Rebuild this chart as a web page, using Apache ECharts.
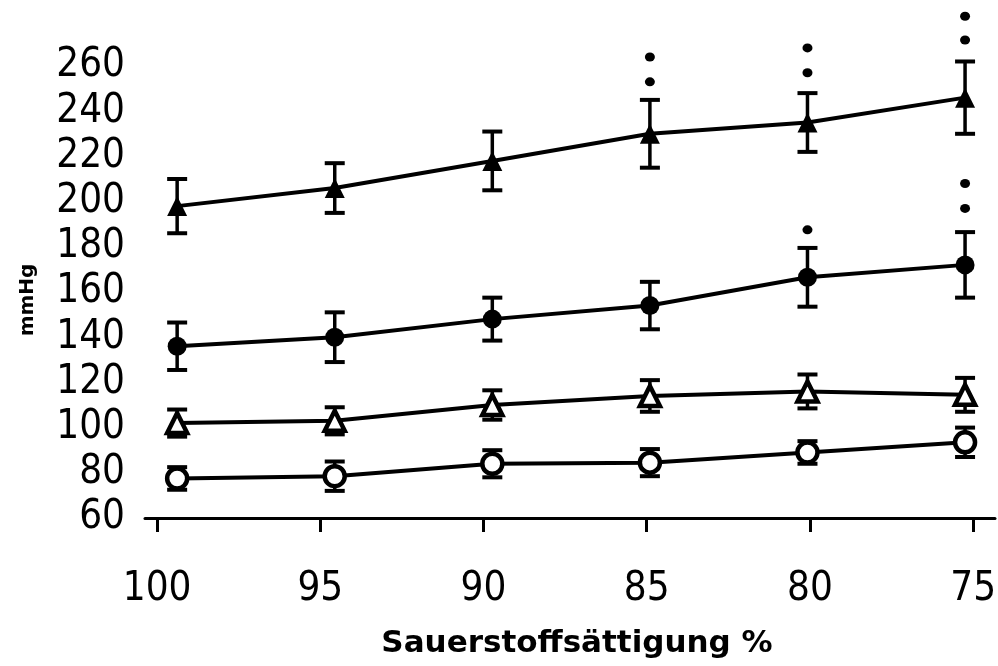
<!DOCTYPE html>
<html>
<head>
<meta charset="utf-8">
<title>Sauerstoffsättigung</title>
<script src="https://cdn.jsdelivr.net/npm/echarts@6.0.0/dist/echarts.min.js"></script>
<style>
    html, body { margin: 0; padding: 0; background: #fff; }
    #chart { width: 998px; height: 666px; }
</style>
</head>
<body>
<div id="chart"></div>
<script>
// Werte
var satLevels = [100, 95, 90, 85, 80, 75];
var yTicks = [60, 80, 100, 120, 140, 160, 180, 200, 220, 240, 260];

// gefülltes Dreieck
var meanA = [198, 206, 218, 230, 235, 246];
var errA = [12, 11, 13, 15, 13, 16];
// gefüllter Kreis
var meanB = [136, 140, 148, 154, 166.5, 172];
var errB = [10.5, 11, 9.5, 10.5, 13, 14.5];
// offenes Dreieck
var meanC = [102, 103, 110, 114, 116, 114.5];
var errC = [6, 6, 6.5, 7, 7.5, 7.5];
// offener Kreis
var meanD = [77.5, 78.5, 84, 84.5, 89, 93.5];
var errD = [5, 6.5, 6, 6, 5, 6.5];

// Signifikanzpunkte [Sättigung, mmHg]
var sigDots = [[85, 253], [85, 264], [80, 257], [80, 268], [75, 271.5], [75, 282],
               [80, 187.5], [75, 197], [75, 208]];

var chart;

$ready(function () {
    chart = echarts.init(document.getElementById("chart"));
    chart.setOption(buildOption());
});

function $ready(fn) {
    if (document.readyState != "loading") fn();
    else document.addEventListener("DOMContentLoaded", fn);
}

function pairs(xs, ys) {
    var out = [];
    for (var i = 0; i < xs.length; i++) {
        out.push([xs[i], ys[i]]);
    }
    return out;
}

function errRows(xs, ys, es) {
    var out = [];
    for (var i = 0; i < xs.length; i++) {
        out.push([xs[i], ys[i] - es[i], ys[i] + es[i]]);
    }
    return out;
}

//Fehlerbalken zeichnen
function renderErr(params, api) {
    var lo = api.coord([api.value(0), api.value(1)]);
    var hi = api.coord([api.value(0), api.value(2)]);
    var w = 10;
    var st = { stroke: "#000", lineWidth: 4 };
    return {
        type: "group",
        children: [
            { type: "line", shape: { x1: lo[0], y1: lo[1], x2: hi[0], y2: hi[1] }, style: { stroke: "#000", lineWidth: 3.5 } },
            { type: "line", shape: { x1: lo[0] - w, y1: lo[1], x2: lo[0] + w, y2: lo[1] }, style: st },
            { type: "line", shape: { x1: hi[0] - w, y1: hi[1], x2: hi[0] + w, y2: hi[1] }, style: st }
        ]
    };
}

function errSeries(data) {
    return {
        type: "custom",
        xAxisIndex: 1,
        renderItem: renderErr,
        data: data,
        clip: false,
        z: 1,
        silent: true
    };
}

function lineSeries(data, symbol, filled, size) {
    return {
        type: "line",
        xAxisIndex: 1,
        data: data,
        symbol: symbol,
        symbolSize: size,
        showAllSymbol: true,
        clip: false,
        z: 3,
        lineStyle: { color: "#000", width: 4 },
        itemStyle: {
            color: filled ? "#000" : "#fff",
            borderColor: "#000",
            borderWidth: filled ? 0 : 4.5,
            opacity: 1
        },
        silent: true
    };
}

function buildOption() {
    var digitFont = "'Liberation Sans Narrow', 'DejaVu Sans Condensed', sans-serif";
    return {
        backgroundColor: "#fff",
        animation: false,
        grid: { left: 145, right: 3, top: 66, bottom: 148, outerBoundsMode: "none", containLabel: false },
        xAxis: [
            {
                type: "value",
                inverse: true,
                min: 74.33,
                max: 100.37,
                name: "Sauerstoffsättigung %",
                nameLocation: "middle",
                nameGap: 110,
                nameTextStyle: {
                    color: "#000",
                    fontFamily: "'DejaVu Sans', sans-serif",
                    fontWeight: "bold",
                    fontSize: 31,
                    padding: [0, 0, 0, 14]
                },
                axisLine: { show: true, lineStyle: { color: "#000", width: 3 } },
                axisTick: {
                    show: true,
                    inside: false,
                    length: 14,
                    customValues: satLevels,
                    lineStyle: { color: "#000", width: 3 }
                },
                axisLabel: {
                    customValues: satLevels,
                    margin: 52,
                    color: "#000",
                    fontFamily: digitFont,
                    fontSize: 40
                },
                splitLine: { show: false }
            },
            {
                // Datenachse, Punkte liegen etwas versetzt zu den Strichen
                type: "value",
                inverse: true,
                min: 74.05,
                max: 101.02,
                show: false
            }
        ],
        yAxis: {
            type: "value",
            min: 60,
            max: 260,
            interval: 20,
            name: "mmHg",
            nameLocation: "middle",
            nameRotate: 90,
            nameGap: 107,
            nameTextStyle: {
                color: "#000",
                fontFamily: "'DejaVu Sans', sans-serif",
                fontWeight: "bold",
                fontSize: 20,
                padding: [0, 16, 0, 0]
            },
            axisLine: { show: false },
            axisTick: { show: false },
            splitLine: { show: false },
            axisLabel: {
                margin: 20,
                color: "#000",
                fontFamily: digitFont,
                fontSize: 40,
                customValues: yTicks
            }
        },
        series: [
            errSeries(errRows(satLevels, meanA, errA)),
            errSeries(errRows(satLevels, meanB, errB)),
            errSeries(errRows(satLevels, meanC, errC)),
            errSeries(errRows(satLevels, meanD, errD)),
            lineSeries(pairs(satLevels, meanA), "triangle", true, 20),
            lineSeries(pairs(satLevels, meanB), "circle", true, 19),
            lineSeries(pairs(satLevels, meanC), "triangle", false, 20),
            lineSeries(pairs(satLevels, meanD), "circle", false, 20),
            {
                type: "scatter",
                xAxisIndex: 1,
                data: sigDots,
                symbol: "circle",
                symbolSize: [10, 9],
                itemStyle: { color: "#000", opacity: 1 },
                clip: false,
                silent: true
            }
        ]
    };
}
</script>
</body>
</html>
